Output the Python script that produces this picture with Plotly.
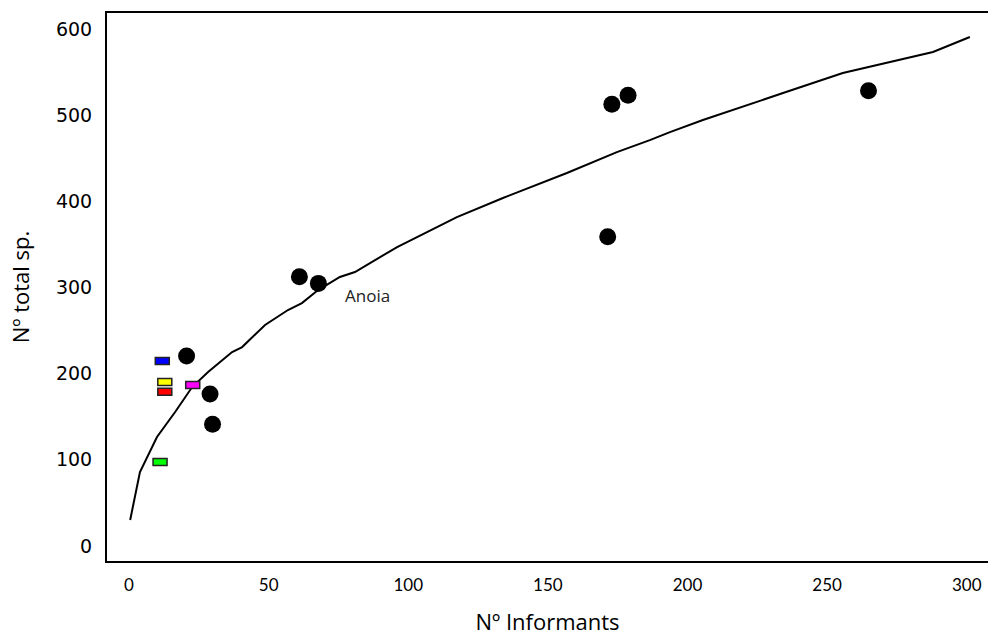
import plotly.graph_objects as go

# Observed localities (black dots)
obs_x = [20.6, 29.0, 29.9, 61.0, 67.8, 171.4, 172.9, 178.7, 264.8]
obs_y = [220.4, 176.4, 141.2, 312.5, 304.8, 358.9, 512.8, 523.2, 528.4]

# Accumulation curve
curve_x = [0.4, 3.9, 10.0, 16.5, 22.6, 28.3, 36.9, 40.5, 48.7, 56.9, 61.9, 67.7,
           75.5, 80.9, 96.0, 117.4, 133.9, 156.8, 174.7, 186.5, 193.7, 205.5,
           234.2, 255.6, 287.9, 301.1]
curve_y = [30.2, 85.9, 126.5, 155.5, 184.5, 201.9, 225.1, 230.9, 256.5, 273.9, 282.0, 297.1,
           312.2, 318.0, 347.0, 381.8, 403.9, 432.9, 457.2, 471.0, 480.4, 494.4,
           525.7, 548.9, 573.3, 590.7]

# Coloured rectangles (other studies)
rect_x = [11.9, 12.8, 12.8, 22.8, 11.1]
rect_y = [214.6, 190.3, 179.0, 187.0, 97.5]
rect_colors = ["#0000ff", "#ffff00", "#ff0000", "#ff00ff", "#00ff00"]

label_text = "Anoia"
label_x = 76.6
label_y = 291.0

x_ticks = [0, 50, 100, 150, 200, 250, 300]
y_ticks = [0, 100, 200, 300, 400, 500, 600]

fig = go.Figure()
fig.add_trace(go.Scatter(x=curve_x, y=curve_y, mode="lines",
                         line=dict(color="black", width=2), hoverinfo="skip"))
fig.add_trace(go.Scatter(x=obs_x, y=obs_y, mode="markers",
                         marker=dict(color="black", size=17)))

shapes = []
for xv, yv, c in zip(rect_x, rect_y, rect_colors):
    shapes.append(dict(type="rect", xref="x", yref="y",
                       xsizemode="pixel", ysizemode="pixel",
                       xanchor=xv, yanchor=yv,
                       x0=-7, x1=7, y0=-3.5, y1=3.5,
                       fillcolor=c, line=dict(color="#222222", width=1.5)))

fig.update_layout(
    width=988, height=639,
    margin=dict(l=107, r=0, t=13, b=78),
    paper_bgcolor="white", plot_bgcolor="white",
    showlegend=False,
    shapes=shapes,
    font=dict(family="Open Sans", color="black"),
    annotations=[dict(x=label_x, y=label_y, text=label_text, showarrow=False,
                      xanchor="left", yanchor="middle",
                      font=dict(family="Open Sans", size=17, color="#222222"))],
)
fig.update_xaxes(range=[-7.9, 307.6], tickvals=x_ticks, showgrid=False, zeroline=False,
                 showline=True, linecolor="black", linewidth=2, mirror=True,
                 ticks="", ticklabelstandoff=8,
                 tickfont=dict(family="Lato", size=17),
                 title=dict(text="Nº Informants", font=dict(family="Open Sans", size=22), standoff=20))
fig.update_yaxes(range=[-17.4, 618.6], tickvals=y_ticks, showgrid=False, zeroline=False,
                 showline=True, linecolor="black", linewidth=2,
                 ticks="", ticklabelstandoff=9,
                 tickfont=dict(family="DejaVu Sans", size=19),
                 title=dict(text="Nº total sp.", font=dict(family="Open Sans", size=22), standoff=20))

fig.write_html("out.html")
